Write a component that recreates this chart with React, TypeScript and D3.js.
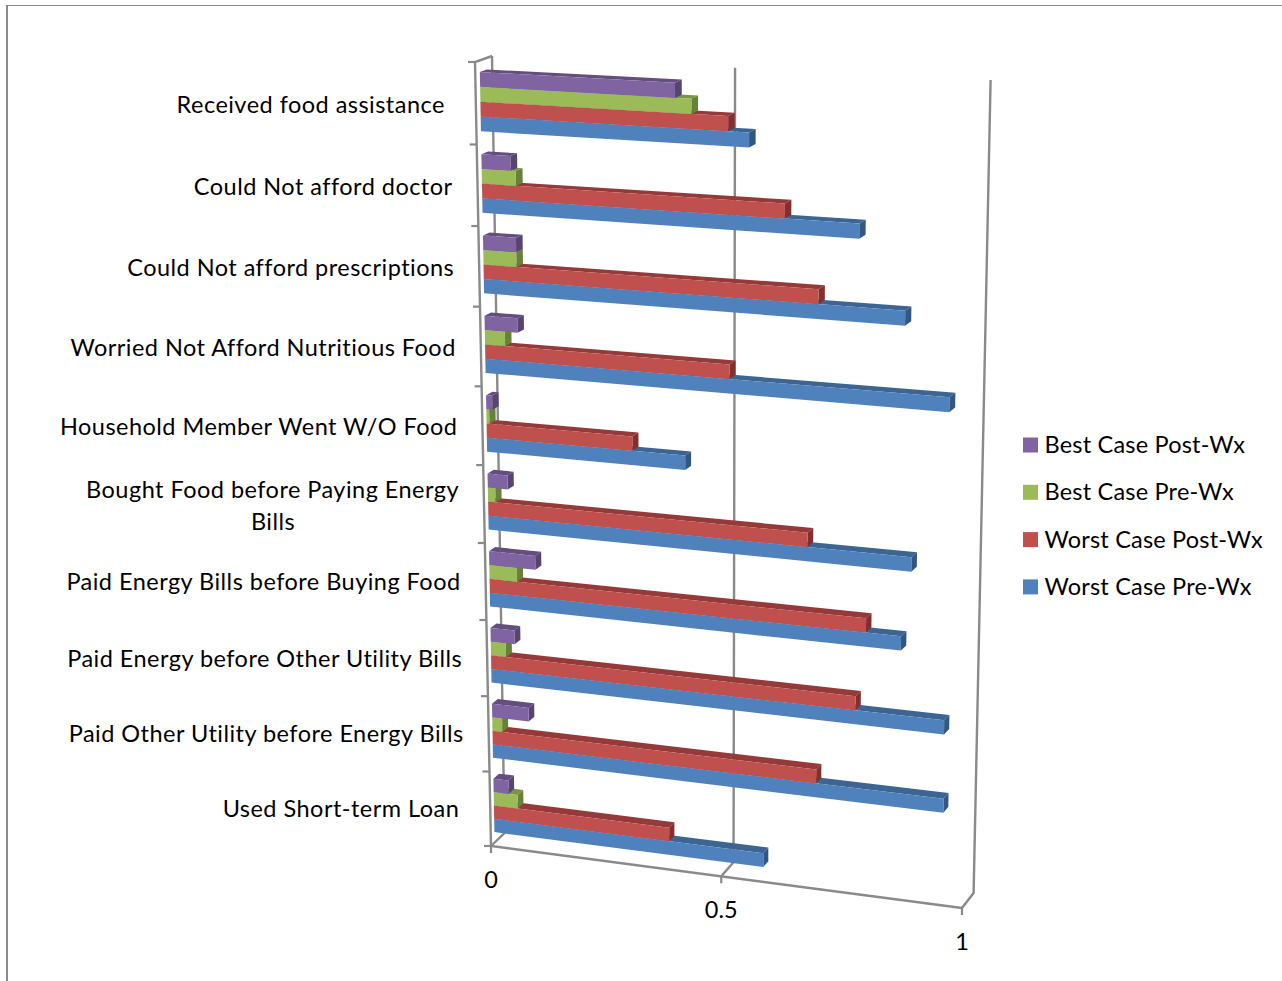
import React from "react";
import * as d3 from "d3";

const categories = [
  "Received food assistance",
  "Could Not afford doctor",
  "Could Not afford prescriptions",
  "Worried Not Afford Nutritious Food",
  "Household Member Went W/O Food",
  "Bought Food before Paying Energy Bills",
  "Paid Energy Bills before Buying Food",
  "Paid Energy before Other Utility Bills",
  "Paid Other Utility before Energy Bills",
  "Used Short-term Loan",
];

const seriesNames = ["Best Case Post-Wx", "Best Case Pre-Wx", "Worst Case Post-Wx", "Worst Case Pre-Wx"];

const bestPost = [0.403, 0.061, 0.07, 0.07, 0.013, 0.043, 0.1, 0.052, 0.08, 0.033];
const bestPre = [0.436, 0.072, 0.07, 0.043, 0.006, 0.016, 0.06, 0.033, 0.022, 0.053];
const worstPost = [0.51, 0.624, 0.692, 0.512, 0.31, 0.672, 0.792, 0.772, 0.692, 0.382];
const worstPre = [0.552, 0.772, 0.864, 0.953, 0.42, 0.882, 0.863, 0.952, 0.953, 0.582];
const seriesValues = [bestPost, bestPre, worstPost, worstPre];

const valueTicks = [0, 0.5, 1];

const fronts = ["#8064A2", "#9BBB59", "#C0504D", "#4F81BD"];
const tops = ["#644E80", "#7A9645", "#953A38", "#3D6594"];
const sides = ["#574470", "#67803A", "#832F2D", "#345782"];

const AXIS = "#8a8a8a";
const FONT = "Lato, 'Open Sans', sans-serif";
const FONT_SIZE = 23.5;

type Pt = [number, number];

// Square-to-quad projective transform; corners are (u,v) = (0,0), (1,0), (1,1), (0,1).
function quadMap(p0: Pt, p1: Pt, p2: Pt, p3: Pt) {
  const dx1 = p1[0] - p2[0];
  const dx2 = p3[0] - p2[0];
  const sx = p0[0] - p1[0] + p2[0] - p3[0];
  const dy1 = p1[1] - p2[1];
  const dy2 = p3[1] - p2[1];
  const sy = p0[1] - p1[1] + p2[1] - p3[1];
  const den = dx1 * dy2 - dx2 * dy1;
  const g = (sx * dy2 - dx2 * sy) / den;
  const h = (dx1 * sy - sx * dy1) / den;
  const a = p1[0] - p0[0] + g * p1[0];
  const b = p3[0] - p0[0] + h * p3[0];
  const d = p1[1] - p0[1] + g * p1[1];
  const e = p3[1] - p0[1] + h * p3[1];
  return (u: number, v: number): Pt => {
    const w = g * u + h * v + 1;
    return [(a * u + b * v + p0[0]) / w, (d * u + e * v + p0[1]) / w];
  };
}

// The plot box seen in perspective: near plane and back wall, each a quad.
const nearPlane = quadMap([475, 62], [974, 90], [962, 908], [491, 846]);
const backPlane = quadMap([492, 56], [990.6, 80], [973.6, 893], [504.5, 833]);

const project = (u: number, v: number, depth: number): Pt => {
  const n = nearPlane(u, v);
  const b = backPlane(u, v);
  return [n[0] + (b[0] - n[0]) * depth, n[1] + (b[1] - n[1]) * depth];
};

const BAR_NEAR = 0.27;
const BAR_FAR = 0.68;

const xScale = d3.scaleLinear().domain([0, 1]).range([0, 1]);
const yScale = d3.scaleBand<string>().domain(categories).range([0, 1]);
const barScale = d3.scaleBand<string>().domain(seriesNames).range([0, yScale.bandwidth()]).paddingOuter(0.78);

const polygon = d3.line<Pt>().curve(d3.curveLinearClosed);
const segment = d3.line<Pt>();

function Bar({ category, s }: { category: number; s: number }) {
  const name = categories[category];
  const u = xScale(seriesValues[s][category]);
  const v0 = yScale(name)! + barScale(seriesNames[s])!;
  const v1 = v0 + barScale.bandwidth();
  const front = [project(0, v0, BAR_NEAR), project(u, v0, BAR_NEAR), project(u, v1, BAR_NEAR), project(0, v1, BAR_NEAR)];
  const top = [project(0, v0, BAR_NEAR), project(u, v0, BAR_NEAR), project(u, v0, BAR_FAR), project(0, v0, BAR_FAR)];
  const side = [project(u, v0, BAR_NEAR), project(u, v0, BAR_FAR), project(u, v1, BAR_FAR), project(u, v1, BAR_NEAR)];
  return (
    <g>
      <path d={polygon(top)!} fill={tops[s]} />
      <path d={polygon(side)!} fill={sides[s]} />
      <path d={polygon(front)!} fill={fronts[s]} />
    </g>
  );
}

function CategoryLabel({ text, index }: { text: string; index: number }) {
  const mid = yScale(text)! + yScale.bandwidth() / 2;
  const [ax, ay] = project(0, mid, 0);
  const inset = index === 0 || index === 9 ? 31 : 25;
  const style = { fontFamily: FONT, fontSize: FONT_SIZE, fill: "#000", letterSpacing: 0.47 };
  const baseline = ay + 10 - 2.2 * mid;
  if (text.startsWith("Bought")) {
    const lineOne = "Bought Food before Paying Energy";
    return (
      <text textAnchor="end" style={style}>
        <tspan x={ax - inset} y={ay + 9 - 15}>{lineOne}</tspan>
        <tspan x={ax - inset - 186} y={ay + 9 + 17} textAnchor="middle">Bills</tspan>
      </text>
    );
  }
  return (
    <text x={ax - inset} y={baseline} textAnchor="end" style={style}>
      {text}
    </text>
  );
}

export default function App() {
  const reversedCategories = d3.range(categories.length).reverse();
  const reversedSeries = d3.range(seriesNames.length).reverse();
  const edges = d3.range(categories.length + 1).map((i) => i / categories.length);

  return (
    <svg
      width={1282}
      height={981}
      viewBox="0 0 1282 981"
      style={{ position: "absolute", left: 0, top: 0, background: "#fff" }}
    >
      {/* Chart frame, open towards the right and bottom of the page */}
      <path d="M7 981V5" fill="none" stroke={AXIS} strokeWidth={2} />
      <path d="M6 5.5H1282" fill="none" stroke={AXIS} strokeWidth={1.2} />

      {/* Back wall gridlines and floor returns */}
      {valueTicks.map((t) => (
        <path
          key={t}
          d={segment([project(t, 0, 1), project(t, 1, 1), project(t, 1, 0)])!}
          fill="none"
          stroke={AXIS}
          strokeWidth={2.4}
        />
      ))}

      {/* Category axis on the near plane */}
      <path d={segment([project(0, 0, 1), project(0, 0, 0), project(0, 1, 0), project(1, 1, 0)])!} fill="none" stroke={AXIS} strokeWidth={2.4} />
      {edges.map((e) => {
        const p = project(0, e, 0);
        return <path key={e} d={segment([[p[0] - 7, p[1]], p])!} stroke={AXIS} strokeWidth={2.2} fill="none" />;
      })}
      {valueTicks.map((t) => {
        const p = project(t, 1, 0);
        return <path key={t} d={segment([p, [p[0], p[1] + 7]])!} stroke={AXIS} strokeWidth={2.2} fill="none" />;
      })}

      {/* Bars, painted far to near so that upper faces overlap correctly */}
      {reversedCategories.map((c) =>
        reversedSeries.map((s) => <Bar key={`${c}-${s}`} category={c} s={s} />)
      )}

      {categories.map((c, i) => (
        <CategoryLabel key={c} text={c} index={i} />
      ))}

      {valueTicks.map((t) => {
        const p = project(t, 1, 0);
        return (
          <text key={t} x={p[0]} y={p[1] + 42} textAnchor="middle" style={{ fontFamily: FONT, fontSize: FONT_SIZE, fill: "#000" }}>
            {String(t)}
          </text>
        );
      })}

      {/* Legend */}
      {seriesNames.map((name, i) => {
        const y = 445 + i * 47.3;
        return (
          <g key={name}>
            <rect x={1023} y={y - 7.5} width={15} height={15} fill={fronts[i]} />
            <text x={1044.5} y={y + 8} style={{ fontFamily: FONT, fontSize: FONT_SIZE, fill: "#000", letterSpacing: 0.2 }}>
              {name}
            </text>
          </g>
        );
      })}
    </svg>
  );
}
